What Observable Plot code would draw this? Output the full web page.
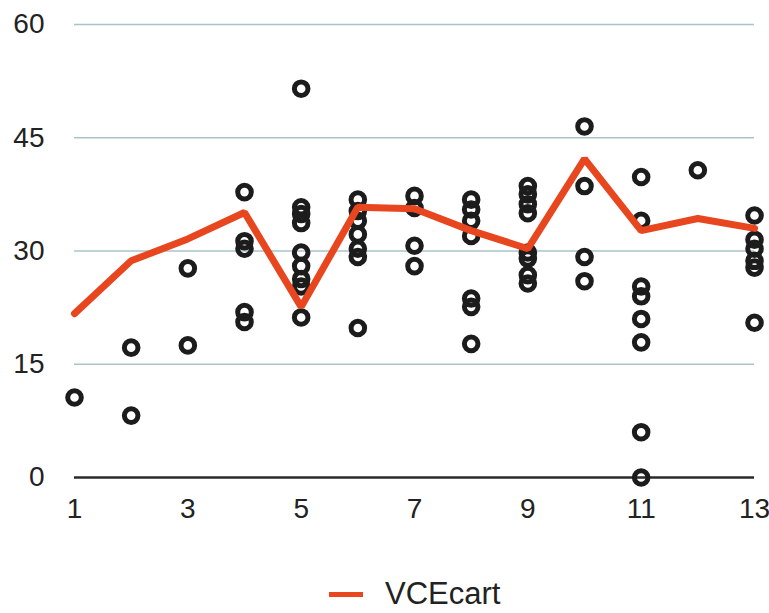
<!DOCTYPE html>
<html><head><meta charset="utf-8">
<script src="https://cdn.jsdelivr.net/npm/d3@7"></script>
<script src="https://cdn.jsdelivr.net/npm/@observablehq/plot@0.6"></script>
<style>
body{margin:0;background:#fff;font-family:"Liberation Sans",Arial,sans-serif;overflow:hidden;}
#legend{position:relative;height:73px;width:769px;}
#legend .sw{position:absolute;left:329px;top:52px;width:34px;height:5px;background:#e8461f;}
#legend .tx{position:absolute;left:385px;top:40px;font-size:31px;line-height:28px;color:#222;}
</style></head><body>
<div id="chart"></div>
<div id="legend"><span class="sw"></span><span class="tx">VCEcart</span></div>
<script>
const categories = [1, 2, 3, 4, 5, 6, 7, 8, 9, 10, 11, 12, 13];
const lineValues = [21.7, 28.7, 31.6, 35.1, 22.6, 35.8, 35.6, 32.7, 30.3, 42.2, 32.7, 34.3, 33.0];
const pointValues = [
  [10.6],
  [17.2, 8.2],
  [27.7, 17.5],
  [37.8, 31.3, 30.3, 21.9, 20.6],
  [51.5, 35.8, 34.9, 33.7, 29.8, 28.0, 26.3, 25.3, 21.2],
  [36.8, 35.3, 34.0, 32.2, 30.3, 29.2, 19.8],
  [37.3, 35.7, 30.7, 28.0],
  [36.8, 35.5, 34.0, 32.0, 23.7, 22.6, 17.7],
  [38.6, 37.5, 36.2, 35.0, 29.8, 29.0, 26.8, 25.7],
  [46.5, 38.6, 29.2, 26.0],
  [39.8, 34.0, 25.3, 24.0, 21.0, 17.9, 6.0, 0],
  [40.7],
  [34.7, 31.5, 30.3, 28.7, 27.8, 20.5]
];
const yTicks = [0, 15, 30, 45, 60];
const xTicks = [1, 3, 5, 7, 9, 11, 13];

const lineData = categories.map((c, i) => ({x: c, y: lineValues[i]}));
const pointData = categories.flatMap((c, i) => pointValues[i].map(v => ({x: c, y: v})));

const chart = Plot.plot({
  width: 769,
  height: 540,
  marginLeft: 74,
  marginRight: 15,
  marginTop: 24,
  marginBottom: 63,
  style: {fontFamily: "Liberation Sans, Arial, sans-serif", fontSize: "28px", color: "#222", background: "#fff"},
  x: {domain: [1, 13]},
  y: {domain: [0, 60]},
  marks: [
    Plot.ruleY(yTicks.filter(d => d > 0), {stroke: "#a9c3cb", strokeWidth: 1.5}),
    Plot.ruleY([0], {stroke: "#2a2a2a", strokeWidth: 2.5}),
    Plot.axisY({ticks: yTicks, tickSize: 0, tickPadding: 30, fontSize: 28, label: null}),
    Plot.axisX({ticks: xTicks, tickSize: 0, tickPadding: 21, fontSize: 28, label: null}),
    Plot.dot(pointData, {x: "x", y: "y", r: 6.8, stroke: "#1c1c1c", strokeWidth: 5, fill: "none"}),
    Plot.line(lineData, {x: "x", y: "y", stroke: "#e8461f", strokeWidth: 7, strokeLinejoin: "miter"})
  ]
});
document.getElementById("chart").appendChild(chart);
</script>
</body></html>
